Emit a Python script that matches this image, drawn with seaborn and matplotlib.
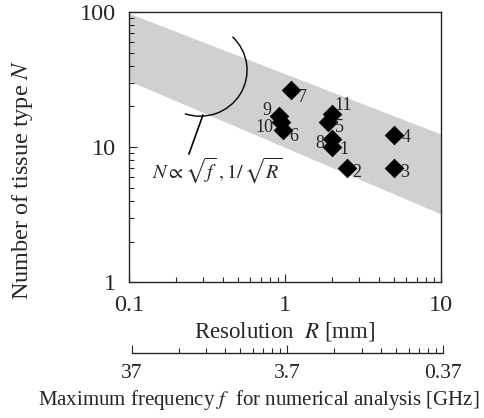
import numpy as np
import pandas as pd
import seaborn as sns
import matplotlib.pyplot as plt
from matplotlib.patches import Arc
from matplotlib.ticker import LogLocator, NullFormatter

# tissue-model points: resolution R [mm] vs number of tissue types N
labels = ['1', '2', '3', '4', '5', '6', '7', '8', '9', '10', '11']
resolution = [2.0, 2.5, 5.0, 5.0, 1.9, 0.97, 1.1, 2.0, 0.92, 0.95, 2.0]
n_tissue = [10, 7, 7, 12.4, 15.3, 13.4, 26.4, 11.4, 17, 15.3, 17.5]

# shaded band N ~ 1/sqrt(R)
band_r = [0.1, 10]
band_upper = [98, 12.5]
band_lower = [31, 3.2]

# frequency axis (f = 3.7 / R)
freq_ticks = [0.1, 1, 10]
freq_labels = ['37', '3.7', '0.37']

# label offsets in points (dx, dy)
label_offsets = {
    '1': (9, -2), '2': (7, -3), '3': (8, -3), '4': (9, -2), '5': (8, -4),
    '6': (8, -5), '7': (8, -5), '8': (-9, -3), '9': (-9, 4), '10': (-12, -4),
    '11': (8, 6),
}

sns.set_style('ticks')
plt.rcParams['font.family'] = ['Liberation Serif', 'DejaVu Serif']
plt.rcParams['mathtext.fontset'] = 'stix'

df = pd.DataFrame({'R': resolution, 'N': n_tissue, 'label': labels})

fig = plt.figure(figsize=(4.85, 4.18), dpi=100)
ax = fig.add_axes([0.266, 0.325, 0.643, 0.646])

ax.fill_between(band_r, band_lower, band_upper, color='#d0d0d0', linewidth=0, zorder=0)

sns.scatterplot(data=df, x='R', y='N', marker='D', s=100, color='black',
                edgecolor='black', linewidth=0, ax=ax, zorder=3)

for _, row in df.iterrows():
    dx, dy = label_offsets[row['label']]
    ax.annotate(row['label'], (row['R'], row['N']), xytext=(dx, dy),
                textcoords='offset points', ha='center', va='center', fontsize=13)

ax.set_xscale('log')
ax.set_yscale('log')
ax.set_xlim(0.1, 10)
ax.set_ylim(1, 100)
ax.set_xticks([0.1, 1, 10])
ax.set_xticklabels(['0.1', '1', '10'])
ax.set_yticks([1, 10, 100])
ax.set_yticklabels(['1', '10', '100'])
ax.xaxis.set_minor_locator(LogLocator(subs=np.arange(2, 10)))
ax.yaxis.set_minor_locator(LogLocator(subs=np.arange(2, 10)))
ax.xaxis.set_minor_formatter(NullFormatter())
ax.yaxis.set_minor_formatter(NullFormatter())
ax.tick_params(which='both', direction='in', labelsize=17.5, top=False, right=False)
ax.tick_params(which='major', length=6, width=0.8)
ax.tick_params(axis='x', which='major', pad=9)
ax.tick_params(axis='y', which='major', pad=9.5)
ax.tick_params(which='minor', length=3.5, width=0.8)
for sp in ax.spines.values():
    sp.set_linewidth(1.0)
    sp.set_visible(True)

ax.set_xlabel('Resolution  $R$ [mm]', fontsize=16.5, labelpad=3)
ax.set_ylabel('Number of tissue type $N$', fontsize=17.5)
ax.yaxis.set_label_coords(-0.30, 0.378)

# annotation arc + leader line + formula
ax.add_patch(Arc((0.228, 0.785), 0.301, 0.341, theta1=-107, theta2=50,
                 transform=ax.transAxes, color='black', linewidth=1.0))
ax.plot([0.237, 0.192], [0.619, 0.474], transform=ax.transAxes,
        color='black', linewidth=1.2)
ax.text(0.075, 0.415, r'$N\propto\sqrt{f}\;,1/\,\sqrt{R}$', transform=ax.transAxes,
        fontsize=14.5, ha='left', va='center')

# secondary frequency axis
ax2 = fig.add_axes([0.2715, 1 - 353 / 418, 0.642, 0.0001])
ax2.set_xscale('log')
ax2.set_xlim(0.1, 10)
ax2.set_yticks([])
for side in ['left', 'right', 'top']:
    ax2.spines[side].set_visible(False)
ax2.spines['bottom'].set_linewidth(1.0)
ax2.set_xticks(freq_ticks)
ax2.set_xticklabels(freq_labels)
ax2.xaxis.set_minor_locator(LogLocator(subs=np.arange(2, 10)))
ax2.xaxis.set_minor_formatter(NullFormatter())
ax2.tick_params(which='both', direction='in', labelsize=15.5, pad=8)
ax2.tick_params(which='major', length=6, width=0.8)
ax2.tick_params(which='minor', length=3.5, width=0.8)
ax2.patch.set_visible(False)
fig.text(259 / 485, 1 - 405 / 418, 'Maximum frequency $f$  for numerical analysis [GHz]',
         fontsize=15, ha='center', va='baseline')

fig.savefig('out.png', dpi=100)
plt.close(fig)
